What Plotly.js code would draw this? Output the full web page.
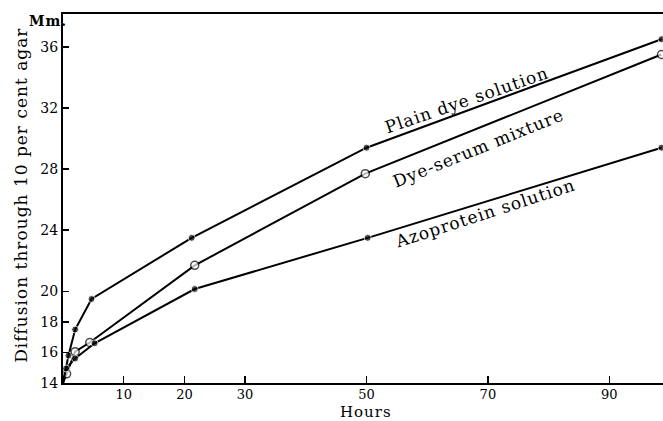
<!DOCTYPE html>
<html>
<head>
<meta charset="utf-8">
<script src="https://cdn.plot.ly/plotly-3.0.1.min.js"></script>
<style>
html,body{margin:0;padding:0;background:#fff;}
#chart{width:663px;height:421px;}
.annotation-text{letter-spacing:1px;}
</style>
</head>
<body>
<div id="chart"></div>
<script>
// Hours
const plainHours = [0, 0.9, 2, 4.7, 21.2, 50, 98.6];
const plainMm    = [14, 15.8, 17.5, 19.5, 23.5, 29.4, 36.5];
const serumHours = [0, 0.6, 2, 4.4, 21.7, 49.8, 98.6];
const serumMm    = [14, 14.6, 16.05, 16.65, 21.7, 27.7, 35.5];
const azoHours   = [0, 0.5, 2, 5.2, 21.7, 50.2, 98.6];
const azoMm      = [14, 14.95, 15.6, 16.6, 20.15, 23.5, 29.4];
const seriesNames = ["Plain dye solution", "Dye-serum mixture", "Azoprotein solution"];
const xTicks = [10, 20, 30, 50, 70, 90];
const yTicks = [14, 16, 18, 20, 24, 28, 32, 36];

const FONT = "DejaVu Serif, Liberation Serif, serif";
function sizes(n, s){ const a = new Array(n).fill(s); a[0] = 0; return a; }

const traces = [
  {x: plainHours, y: plainMm, name: seriesNames[0], mode: "lines+markers", cliponaxis: false,
   line: {color: "#000", width: 2}, marker: {symbol: "circle", size: sizes(plainHours.length, 7), color: "#000"}},
  {x: serumHours, y: serumMm, name: seriesNames[1], mode: "lines+markers", cliponaxis: false,
   line: {color: "#000", width: 2}, marker: {symbol: "circle", size: sizes(serumHours.length, 8), color: "#fff", line: {color: "#000", width: 1.5}}},
  {x: azoHours, y: azoMm, name: seriesNames[2], mode: "lines+markers", cliponaxis: false,
   line: {color: "#000", width: 2}, marker: {symbol: "circle", size: sizes(azoHours.length, 7), color: "#000"}}
];

const layout = {
  width: 663, height: 421,
  margin: {l: 63, r: 0, t: 14, b: 38},
  paper_bgcolor: "#fff", plot_bgcolor: "#fff",
  showlegend: false,
  font: {family: FONT, color: "#000", size: 14},
  xaxis: {range: [0, 98.85], tickvals: xTicks, ticktext: xTicks.map(String),
    ticks: "inside", ticklen: 7, tickwidth: 1.5, tickcolor: "#000", ticklabelstandoff: -2,
    showline: true, linecolor: "#000", linewidth: 2, mirror: true,
    showgrid: false, zeroline: false, tickfont: {family: FONT, size: 13}},
  yaxis: {range: [14, 38.15], tickvals: yTicks, ticktext: yTicks.map(String),
    ticks: "inside", ticklen: 6, tickwidth: 1.5, tickcolor: "#000",
    showline: true, linecolor: "#000", linewidth: 2, mirror: false,
    showgrid: false, zeroline: false, tickfont: {family: FONT, size: 14}},
  annotations: [
    {text: seriesNames[0], x: 66.5, y: 32.5, xref: "x", yref: "y", showarrow: false, textangle: -19, font: {family: FONT, size: 17}},
    {text: "Dye-serum mixture", x: 68.4, y: 29.4, xref: "x", yref: "y", showarrow: false, textangle: -22, font: {family: FONT, size: 17}},
    {text: seriesNames[2], x: 69.6, y: 25.1, xref: "x", yref: "y", showarrow: false, textangle: -18, font: {family: FONT, size: 17}},
    {text: "<b>Mm.</b>", x: -0.025, y: 0.981, xref: "paper", yref: "paper", showarrow: false, xanchor: "center", yanchor: "middle", font: {family: FONT, size: 14}},
    {text: "Diffusion through 10 per cent agar", x: -0.069, y: 0.509, xref: "paper", yref: "paper", showarrow: false, textangle: -90, xanchor: "center", yanchor: "middle", font: {family: FONT, size: 17}},
    {text: "Hours", x: 50, y: -0.0786, xref: "x", yref: "paper", showarrow: false, xanchor: "center", yanchor: "middle", font: {family: FONT, size: 15}}
  ]
};

Plotly.newPlot("chart", traces, layout, {displayModeBar: false, staticPlot: true});
</script>
</body>
</html>
